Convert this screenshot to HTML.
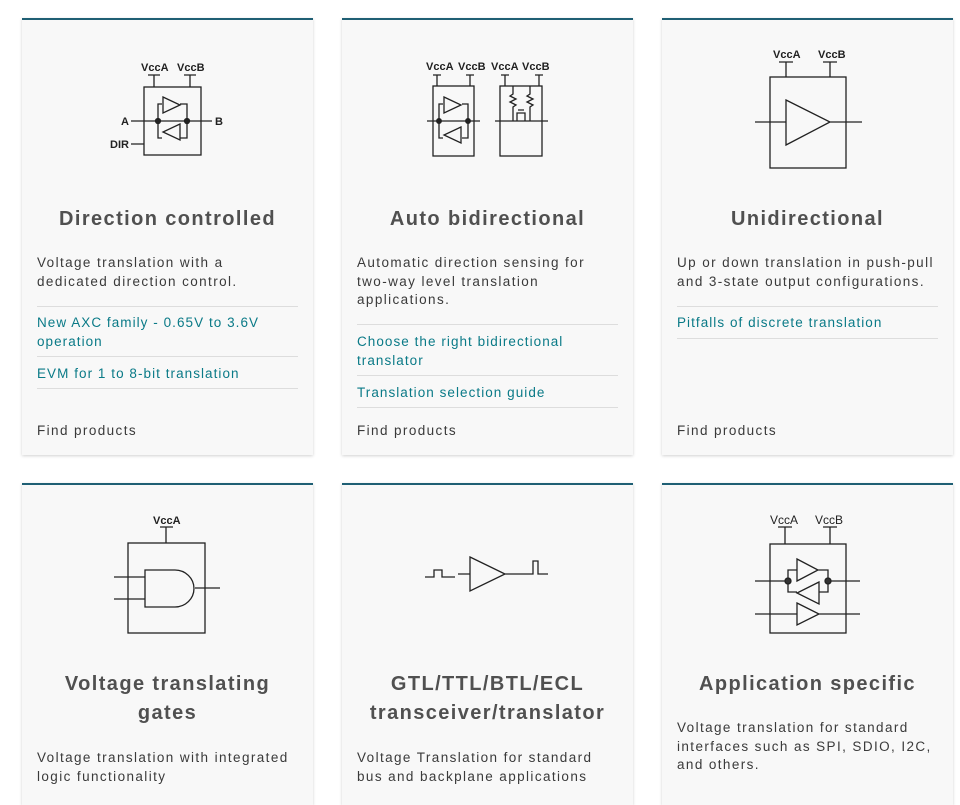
<!DOCTYPE html>
<html><head><style>
body{margin:0;width:960px;height:779px;background:#fff;overflow:hidden;font-family:"Liberation Sans",sans-serif;position:relative}
.card{position:absolute;width:291px;background:#f8f8f8;border-top:2px solid #1f5f74;box-shadow:0 1px 3px rgba(0,0,0,.18)}
.t{position:absolute;left:0;width:291px;text-align:center;font-size:20px;font-weight:bold;letter-spacing:1.4px;color:#505050;line-height:29px}
.d{position:absolute;left:15px;width:262px;font-size:13.5px;letter-spacing:1.4px;color:#3a3a3a;line-height:18.5px}
.l{position:absolute;left:15px;width:261px;font-size:13.5px;letter-spacing:1.05px;color:#0a7a87;line-height:18.5px}
.hr{position:absolute;left:15px;width:261px;border-top:1px solid #ddd}
svg{position:absolute;left:0;top:0}
svg text{font-family:"Liberation Sans",sans-serif;font-size:11px;font-weight:bold;fill:#222}
</style></head><body>
<svg width="960" height="779" style="z-index:2" fill="none" stroke="#222" stroke-width="1.3">
<text x="141" y="71" stroke="none" font-size="11">VccA</text><text x="177" y="71" stroke="none">VccB</text>
<path d="M148 75h12M154 75v12M184 75h12M190 75v12"/>
<rect x="144" y="87" width="57" height="68"/>
<path d="M131 121h81M131 144h13M158 121v-17h4M158 121v17h4M187 121v-17h-7M187 121v17h-7"/>
<path d="M163 97l17 8-17 8zM180 124l-17 8 17 8z"/>
<circle cx="158" cy="121" r="2.5" fill="#222"/><circle cx="187" cy="121" r="2.5" fill="#222"/>
<text x="121" y="125" stroke="none">A</text><text x="215" y="125" stroke="none">B</text><text x="110" y="148" stroke="none">DIR</text>
<text x="426" y="70" stroke="none">VccA</text><text x="458" y="70" stroke="none">VccB</text><text x="491" y="70" stroke="none">VccA</text><text x="522" y="70" stroke="none">VccB</text>
<path d="M433 75h8M437 75v11M466 75h8M470 75v11M501 75h8M505 75v11M535 75h8M539 75v11"/>
<rect x="433" y="86" width="41" height="70"/><rect x="500" y="86" width="42" height="70"/>
<path d="M427 121h53M439 121v-17h4M439 121v17h4M468 121v-17h-6M468 121v17h-6M444 97l17 8-17 8zM461 127l-17 8 17 8z"/>
<circle cx="439" cy="121" r="2.3" fill="#222"/><circle cx="468" cy="121" r="2.3" fill="#222"/>
<path d="M495 121h53M513 86v8l-3 2 6 3-6 3 6 3-3 2v14M530 86v8l-3 2 6 3-6 3 6 3-3 2v14M517 121v-8h8v8M518 110h6"/>
<text x="773" y="58" stroke="none">VccA</text><text x="818" y="58" stroke="none">VccB</text>
<path d="M779 62h14M786 62v15M823 62h14M830 62v15"/>
<rect x="770" y="77" width="76" height="91"/>
<path d="M755 122h31M830 122h32M786 100l44 22-44 23z"/>
<text x="153" y="524" stroke="none">VccA</text>
<path d="M160 527h13M166 527v16"/>
<rect x="128" y="543" width="77" height="90"/>
<path d="M114 577h31M114 599h31M195 588h25M145 570h30a19 18.5 0 0 1 0 37h-30z"/>
<path d="M425 577h9v-7h8v7h13M458 574h12M470 557l35 17-35 17zM505 574h15M520 574h13v-13h5v13h10"/>
<text x="770" y="524" stroke="none" style="font-weight:normal;font-size:12px">VccA</text><text x="815" y="524" stroke="none" style="font-weight:normal;font-size:12px">VccB</text>
<path d="M778 527h14M785 527v17M823 527h14M830 527v17"/>
<rect x="770" y="544" width="76" height="89"/>
<path d="M755 581h33M828 581h32M788 581v-11h9M788 581v11h9M828 581v11h-9M828 581v-11h-10M797 559l21 11-21 11zM819 582l-22 11 22 11zM755 614h42M819 614h41M797 603l22 11-22 11z"/>
<circle cx="788" cy="581" r="3" fill="#333"/><circle cx="828" cy="581" r="3" fill="#333"/>
</svg>

<div class="card" style="left:22px;top:18px;height:435px">
<div class="t" style="top:185px">Direction controlled</div>
<div class="d" style="top:234px">Voltage translation with a dedicated direction control.</div>
<div class="hr" style="top:286px"></div>
<div class="l" style="top:294px">New AXC family - 0.65V to 3.6V operation</div>
<div class="hr" style="top:336px"></div>
<div class="l" style="top:345px">EVM for 1 to 8-bit translation</div>
<div class="hr" style="top:368px"></div>
<div class="d" style="top:402px">Find products</div>
</div>
<div class="card" style="left:342px;top:18px;height:435px">
<div class="t" style="top:185px">Auto bidirectional</div>
<div class="d" style="top:234px">Automatic direction sensing for two&#8209;way level translation applications.</div>
<div class="hr" style="top:304px"></div>
<div class="l" style="top:313px">Choose the right bidirectional translator</div>
<div class="hr" style="top:355px"></div>
<div class="l" style="top:364px">Translation selection guide</div>
<div class="hr" style="top:387px"></div>
<div class="d" style="top:402px">Find products</div>
</div>
<div class="card" style="left:662px;top:18px;height:435px">
<div class="t" style="top:185px">Unidirectional</div>
<div class="d" style="top:234px">Up or down translation in push-pull and 3-state output configurations.</div>
<div class="hr" style="top:286px"></div>
<div class="l" style="top:294px">Pitfalls of discrete translation</div>
<div class="hr" style="top:318px"></div>
<div class="d" style="top:402px">Find products</div>
</div>
<div class="card" style="left:22px;top:483px;height:320px">
<div class="t" style="top:185px">Voltage translating<br>gates</div>
<div class="d" style="top:264px">Voltage translation with integrated logic functionality</div>
</div>
<div class="card" style="left:342px;top:483px;height:320px">
<div class="t" style="top:185px">GTL/TTL/BTL/ECL<br>transceiver/translator</div>
<div class="d" style="top:264px">Voltage Translation for standard bus and backplane applications</div>
</div>
<div class="card" style="left:662px;top:483px;height:320px">
<div class="t" style="top:185px">Application specific</div>
<div class="d" style="top:234px">Voltage translation for standard interfaces such as SPI, SDIO, I2C, and others.</div>
</div>
</body></html>
